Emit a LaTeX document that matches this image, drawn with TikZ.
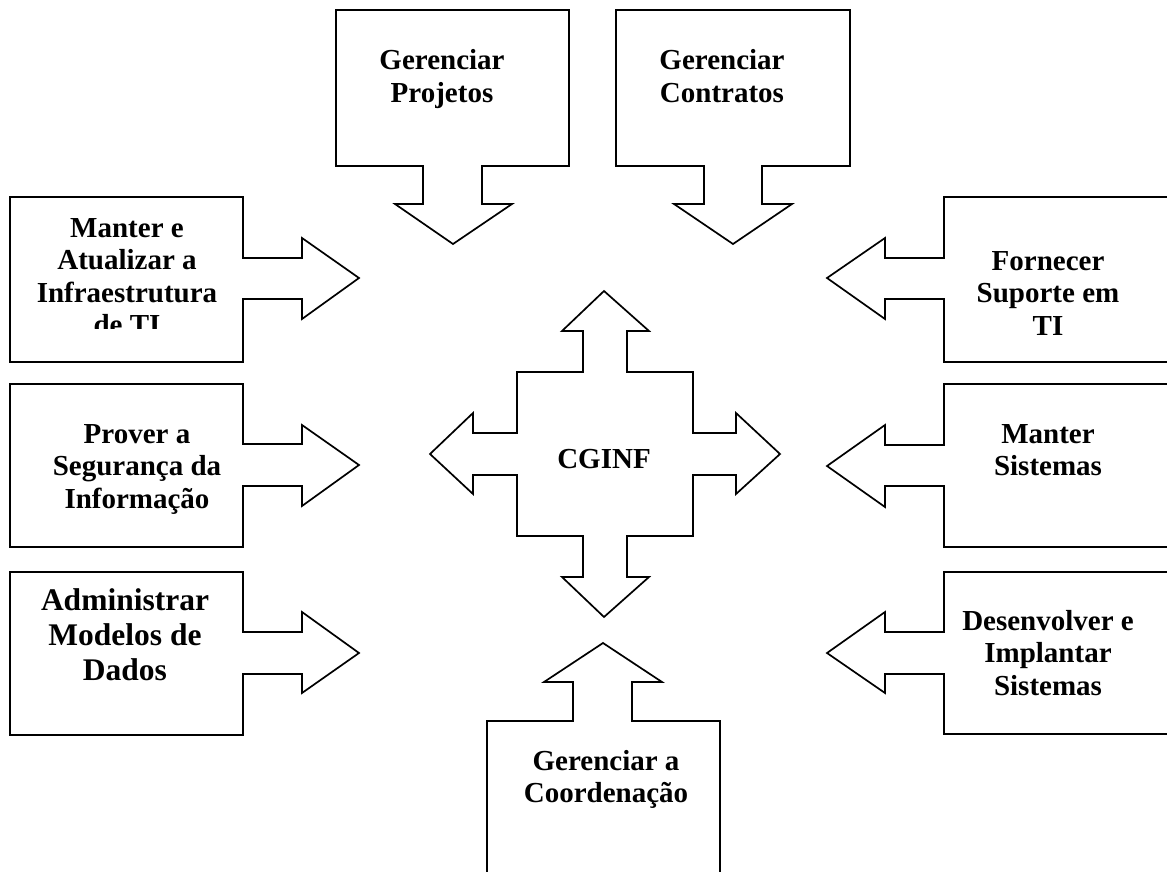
\documentclass[tikz,border=0pt]{standalone}
\usepackage{fontspec}
\setmainfont{Liberation Serif}
\newcommand{\mlines}[1]{\begin{tabular}[t]{@{}c@{}}#1\end{tabular}}
\begin{document}
\begin{tikzpicture}[x=1pt,y=-1pt,
  shape outline/.style={draw=black,line width=1.7pt,line join=miter,fill=white},
  lbl/.style={font=\bfseries\fontsize{29}{32.5}\selectfont,inner sep=0pt,anchor=base},
  biglbl/.style={font=\bfseries\fontsize{31.5}{35}\selectfont,inner sep=0pt,anchor=base}]
\clip (0,0) rectangle (1167,872);
\fill[white] (0,0) rectangle (1167,872);

% left callouts, pointing right
\draw[shape outline] (10,197) -- (243,197) -- (243,258) -- (302,258) -- (302,238) -- (359,278)
  -- (302,319) -- (302,299) -- (243,299) -- (243,362) -- (10,362) -- cycle;
\draw[shape outline] (10,384) -- (243,384) -- (243,444) -- (302,444) -- (302,425) -- (359,465)
  -- (302,506) -- (302,486) -- (243,486) -- (243,547) -- (10,547) -- cycle;
\draw[shape outline] (10,572) -- (243,572) -- (243,632) -- (302,632) -- (302,612) -- (359,653)
  -- (302,693) -- (302,674) -- (243,674) -- (243,735) -- (10,735) -- cycle;

% right callouts, pointing left
\draw[shape outline] (1177,197) -- (944,197) -- (944,258) -- (885,258) -- (885,238) -- (827,278)
  -- (885,319) -- (885,299) -- (944,299) -- (944,362) -- (1177,362) -- cycle;
\draw[shape outline] (1177,384) -- (944,384) -- (944,445) -- (885,445) -- (885,425) -- (827,466)
  -- (885,507) -- (885,486) -- (944,486) -- (944,547) -- (1177,547) -- cycle;
\draw[shape outline] (1177,572) -- (944,572) -- (944,632) -- (885,632) -- (885,612) -- (827,653)
  -- (885,693) -- (885,674) -- (944,674) -- (944,734) -- (1177,734) -- cycle;

% top callouts, pointing down
\draw[shape outline] (336,10) -- (569,10) -- (569,166) -- (482,166) -- (482,204) -- (512,204)
  -- (453,244) -- (395,204) -- (423,204) -- (423,166) -- (336,166) -- cycle;
\draw[shape outline] (616,10) -- (850,10) -- (850,166) -- (762,166) -- (762,204) -- (792,204)
  -- (733,244) -- (674,204) -- (704,204) -- (704,166) -- (616,166) -- cycle;

% bottom callout, pointing up
\draw[shape outline] (487,880) -- (487,721) -- (573,721) -- (573,682) -- (544,682) -- (603,643)
  -- (662,682) -- (632,682) -- (632,721) -- (720,721) -- (720,880) -- cycle;

% central four-way arrow
\draw[shape outline] (604,291) -- (649,331) -- (627,331) -- (627,372) -- (693,372) -- (693,433)
  -- (736,433) -- (736,413) -- (780,454) -- (736,494) -- (736,475) -- (693,475) -- (693,536)
  -- (627,536) -- (627,577) -- (649,577) -- (604,617) -- (562,577) -- (583,577) -- (583,536)
  -- (517,536) -- (517,475) -- (473,475) -- (473,494) -- (430,454) -- (473,413) -- (473,433)
  -- (517,433) -- (517,372) -- (583,372) -- (583,331) -- (562,331) -- cycle;

% labels
\begin{scope}
  \clip (10,197) rectangle (243,328);
  \node[lbl] (infra) at (127,237) {\mlines{Manter e\\Atualizar a\\Infraestrutura\\de TI}};
\end{scope}
\node[lbl] (seg) at (137,443) {\mlines{Prover a\\Segurança da\\Informação}};
\node[biglbl] (dados) at (125,610) {\mlines{Administrar\\Modelos de\\Dados}};
\node[lbl] (proj) at (442,70) {\mlines{Gerenciar\\Projetos}};
\node[lbl] (contr) at (722,70) {\mlines{Gerenciar\\Contratos}};
\node[lbl] (suporte) at (1048,270) {\mlines{Fornecer\\Suporte em\\TI}};
\node[lbl] (sist) at (1048,443) {\mlines{Manter\\Sistemas}};
\node[lbl] (desenv) at (1048,630) {\mlines{Desenvolver e\\Implantar\\Sistemas}};
\node[lbl] (coord) at (606,770) {\mlines{Gerenciar a\\Coordenação}};
\node[lbl] (cginf) at (604,468) {CGINF};
\end{tikzpicture}
\end{document}
